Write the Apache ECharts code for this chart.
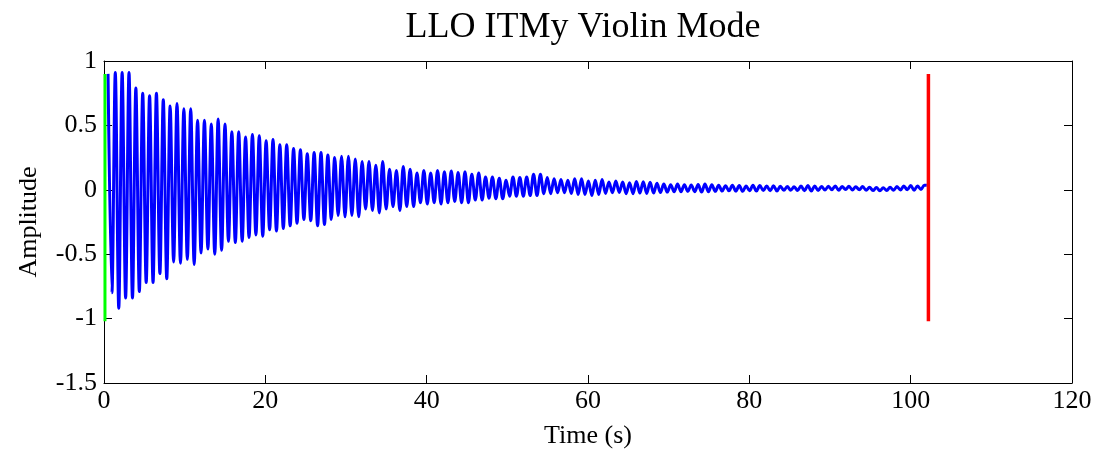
<!DOCTYPE html>
<html>
<head>
<meta charset="utf-8">
<script src="https://cdn.jsdelivr.net/npm/echarts@6/dist/echarts.min.js"></script>
<style>
html,body{margin:0;padding:0;background:#fff;}
#chart{width:1094px;height:450px;}
</style>
</head>
<body>
<div id="chart"></div>
<script>
// ---- data ----
const titleText = 'LLO ITMy Violin Mode';
const xAxisName = 'Time (s)';
const yAxisName = 'Amplitude';
const xTicks = [0, 20, 40, 60, 80, 100, 120];
const yTicks = [-1.5, -1, -0.5, 0, 0.5, 1];

// times (s) of successive peaks / troughs of the blue trace
const extremaTimes = [
  0.50, 0.98, 1.40, 1.83, 2.25, 2.68, 3.10, 3.53, 3.95, 4.38, 4.80, 5.23,
  5.65, 6.08, 6.50, 6.93, 7.35, 7.78, 8.20, 8.63, 9.05, 9.48, 9.90, 10.33,
  10.75, 11.18, 11.60, 12.03, 12.45, 12.88, 13.30, 13.73, 14.15, 14.58, 15.00, 15.43,
  15.85, 16.28, 16.70, 17.13, 17.55, 17.98, 18.40, 18.83, 19.25, 19.68, 20.10, 20.53,
  20.95, 21.38, 21.80, 22.23, 22.65, 23.08, 23.50, 23.93, 24.35, 24.78, 25.20, 25.63,
  26.05, 26.48, 26.90, 27.33, 27.75, 28.18, 28.60, 29.03, 29.45, 29.88, 30.30, 30.73,
  31.15, 31.58, 32.00, 32.43, 32.85, 33.28, 33.70, 34.13, 34.55, 34.98, 35.40, 35.83,
  36.25, 36.68, 37.10, 37.53, 37.95, 38.38, 38.80, 39.23, 39.65, 40.08, 40.50, 40.93,
  41.35, 41.78, 42.20, 42.63, 43.05, 43.48, 43.90, 44.33, 44.75, 45.18, 45.60, 46.03,
  46.45, 46.88, 47.30, 47.73, 48.15, 48.58, 49.00, 49.43, 49.85, 50.28, 50.70, 51.13,
  51.55, 51.98, 52.40, 52.83, 53.25, 53.68, 54.10, 54.53, 54.95, 55.38, 55.80, 56.23,
  56.65, 57.08, 57.50, 57.93, 58.35, 58.78, 59.20, 59.63, 60.05, 60.48, 60.90, 61.33,
  61.75, 62.18, 62.60, 63.03, 63.45, 63.88, 64.30, 64.73, 65.15, 65.58, 66.00, 66.43,
  66.85, 67.28, 67.70, 68.13, 68.55, 68.98, 69.40, 69.83, 70.25, 70.68, 71.10, 71.53,
  71.95, 72.38, 72.80, 73.23, 73.65, 74.08, 74.50, 74.93, 75.35, 75.78, 76.20, 76.63,
  77.05, 77.48, 77.90, 78.33, 78.75, 79.18, 79.60, 80.03, 80.45, 80.88, 81.30, 81.73,
  82.15, 82.58, 83.00, 83.43, 83.85, 84.28, 84.70, 85.13, 85.55, 85.98, 86.40, 86.83,
  87.25, 87.68, 88.10, 88.53, 88.95, 89.38, 89.80, 90.23, 90.65, 91.08, 91.50, 91.93,
  92.35, 92.78, 93.20, 93.63, 94.05, 94.48, 94.90, 95.33, 95.75, 96.18, 96.60, 97.03,
  97.45, 97.88, 98.30, 98.73, 99.15, 99.58, 100.00, 100.43, 100.85, 101.28, 101.70, 102.00
];

// amplitude at each of those peaks / troughs
const extremaValues = [
  0.90, -0.80, 0.91, -0.92, 0.91, -0.84, 0.91, -0.84, 0.79, -0.79, 0.75, -0.72,
  0.73, -0.72, 0.75, -0.65, 0.70, -0.69, 0.65, -0.56, 0.67, -0.57, 0.63, -0.54,
  0.63, -0.58, 0.54, -0.49, 0.54, -0.46, 0.51, -0.50, 0.55, -0.47, 0.51, -0.40,
  0.45, -0.41, 0.45, -0.40, 0.41, -0.37, 0.43, -0.35, 0.42, -0.36, 0.38, -0.31,
  0.39, -0.32, 0.35, -0.30, 0.35, -0.28, 0.32, -0.26, 0.31, -0.23, 0.28, -0.24,
  0.29, -0.28, 0.29, -0.27, 0.27, -0.23, 0.25, -0.20, 0.26, -0.21, 0.26, -0.20,
  0.24, -0.21, 0.22, -0.15, 0.22, -0.16, 0.19, -0.18, 0.22, -0.15, 0.16, -0.13,
  0.15, -0.16, 0.18, -0.13, 0.16, -0.13, 0.13, -0.10, 0.15, -0.11, 0.13, -0.10,
  0.15, -0.11, 0.14, -0.10, 0.145, -0.09, 0.135, -0.10, 0.14, -0.10, 0.12, -0.08,
  0.13, -0.08, 0.10, -0.065, 0.10, -0.07, 0.09, -0.07, 0.075, -0.05, 0.10, -0.05,
  0.095, -0.05, 0.10, -0.045, 0.12, -0.045, 0.12, -0.03, 0.095, -0.03, 0.085, -0.023,
  0.08, -0.023, 0.075, -0.028, 0.085, -0.036, 0.085, -0.036, 0.068, -0.044, 0.075, -0.036,
  0.08, -0.028, 0.06, -0.023, 0.068, -0.02, 0.06, -0.03, 0.055, -0.03, 0.065, -0.025,
  0.063, -0.028, 0.058, -0.025, 0.05, -0.02, 0.045, -0.018, 0.04, -0.015, 0.045, -0.015,
  0.04, -0.012, 0.038, -0.015, 0.042, -0.018, 0.045, -0.015, 0.04, -0.012, 0.035, -0.01,
  0.032, -0.008, 0.036, -0.01, 0.033, -0.012, 0.03, -0.008, 0.035, -0.01, 0.033, -0.006,
  0.03, -0.008, 0.032, -0.01, 0.028, -0.004, 0.025, -0.003, 0.024, -0.005, 0.03, -0.008,
  0.033, -0.01, 0.03, -0.006, 0.026, -0.002, 0.028, 0.0, 0.03, -0.004, 0.025, 0.002,
  0.028, -0.002, 0.024, 0.0, 0.026, -0.004, 0.02, -0.006, 0.018, -0.008, 0.016, -0.006,
  0.02, -0.004, 0.026, -0.002, 0.03, 0.0, 0.033, -0.004, 0.03, 0.002, 0.036, 0.035
];

// vertical marker lines (start = green, end = red)
const startMarkerTime = 0.12;
const endMarkerTime = 102.2;
const markerLow = -1.02;
const markerHigh = 0.9;

// ---- build chart ----
const FONT = '"Liberation Serif", "Times New Roman", serif';
const traceData = extremaTimes.map((t, i) => [t, extremaValues[i]]);
const startData = [[startMarkerTime, markerLow], [startMarkerTime, markerHigh]];
const endData = [[endMarkerTime, markerLow], [endMarkerTime, markerHigh]];

const xMin = xTicks[0], xMax = xTicks[xTicks.length - 1], xStep = xTicks[1] - xTicks[0];
const yMin = yTicks[0], yMax = yTicks[yTicks.length - 1], yStep = yTicks[1] - yTicks[0];

function xAx(pos, showLabel) {
  return {
    type: 'value', position: pos, min: xMin, max: xMax, interval: xStep,
    name: showLabel ? xAxisName : '',
    nameLocation: 'middle', nameGap: 40,
    nameTextStyle: { fontFamily: FONT, fontSize: 26, color: '#000' },
    axisLine: { show: true, onZero: false, lineStyle: { color: '#000', width: 1 } },
    axisTick: { show: true, inside: true, length: 8, lineStyle: { color: '#000', width: 1 } },
    axisLabel: { show: showLabel, fontFamily: FONT, fontSize: 26, color: '#000', margin: 5 },
    splitLine: { show: false },
    minorTick: { show: false }
  };
}
function yAx(pos, showLabel) {
  return {
    type: 'value', position: pos, min: yMin, max: yMax, interval: yStep,
    name: showLabel ? yAxisName : '',
    nameLocation: 'middle', nameGap: 62, nameRotate: 90,
    nameTextStyle: { fontFamily: FONT, fontSize: 26, color: '#000' },
    axisLine: { show: true, onZero: false, lineStyle: { color: '#000', width: 1 } },
    axisTick: { show: true, inside: true, length: 8, lineStyle: { color: '#000', width: 1 } },
    axisLabel: { show: showLabel, fontFamily: FONT, fontSize: 26, color: '#000', margin: 7 },
    splitLine: { show: false },
    minorTick: { show: false }
  };
}

const chart = echarts.init(document.getElementById('chart'), null, { renderer: 'canvas' });
chart.setOption({
  backgroundColor: '#fff',
  animation: false,
  title: {
    text: titleText, left: 578, top: 5, textAlign: 'center',
    textStyle: { fontFamily: FONT, fontSize: 36, fontWeight: 'normal', color: '#000' }
  },
  grid: { left: 104, right: 22, top: 61, bottom: 67, containLabel: false, outerBoundsMode: 'none' },
  xAxis: [xAx('bottom', true), xAx('top', false)],
  yAxis: [yAx('left', true), yAx('right', false)],
  series: [
    {
      type: 'line', data: traceData, xAxisIndex: 0, yAxisIndex: 0,
      showSymbol: false, smooth: 0.35, clip: true,
      lineStyle: { color: '#0000ff', width: 3, join: 'round' }
    },
    {
      type: 'line', data: startData, showSymbol: false,
      lineStyle: { color: '#00ff00', width: 3 }
    },
    {
      type: 'line', data: endData, showSymbol: false,
      lineStyle: { color: '#ff0000', width: 3.5 }
    }
  ]
});
</script>
</body>
</html>
